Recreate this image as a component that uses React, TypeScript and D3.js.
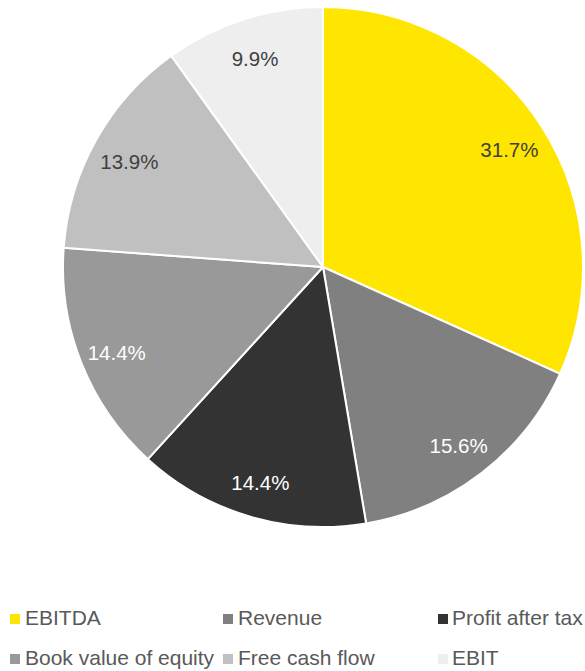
import React from "react";
import * as d3 from "d3";

const categories = ["EBITDA", "Revenue", "Profit after tax", "Book value of equity", "Free cash flow", "EBIT"];
const values = [31.7, 15.6, 14.4, 14.4, 13.9, 9.9];
const colors = ["#FFE600", "#808080", "#333333", "#999999", "#C0C0C0", "#EEEEEE"];
const labelColors = ["#404040", "#FFFFFF", "#FFFFFF", "#FFFFFF", "#404040", "#404040"];

const W = 585;
const H = 671;
const cx = 323;
const cy = 267;
const R = 260;
const labelR = 222;

export default function App() {
  const pie = d3.pie<number>().sort(null).value((d) => d)(values);
  const arc = d3.arc<d3.PieArcDatum<number>>().innerRadius(0).outerRadius(R);
  const labelArc = d3.arc<d3.PieArcDatum<number>>().innerRadius(labelR).outerRadius(labelR);

  const legendX = [10, 223, 438];
  const legendTextX = [25, 238, 452];
  const legendY = [625, 665];

  return (
    <svg width={W} height={H} style={{ position: "absolute", left: 0, top: 0, background: "#fff" }}
      fontFamily="'Liberation Sans', Arial, sans-serif">
      <g transform={`translate(${cx},${cy})`}>
        {pie.map((p, i) => (
          <path key={i} d={arc(p) || ""} fill={colors[i]} stroke="#fff" strokeWidth={2} strokeLinejoin="round" />
        ))}
        {pie.map((p, i) => {
          const [x, y] = labelArc.centroid(p);
          return (
            <text key={i} x={x} y={y + 3} textAnchor="middle" dominantBaseline="central" fontSize={20.5} fill={labelColors[i]}>
              {values[i].toFixed(1)}%
            </text>
          );
        })}
      </g>
      {categories.map((c, i) => {
        const col = i % 3;
        const row = Math.floor(i / 3);
        return (
          <g key={c}>
            <rect x={legendX[col]} y={legendY[row] - 11} width={10} height={10} fill={colors[i]} />
            <text x={legendTextX[col]} y={legendY[row]} fontSize={21} fill="#595959">{c}</text>
          </g>
        );
      })}
    </svg>
  );
}
